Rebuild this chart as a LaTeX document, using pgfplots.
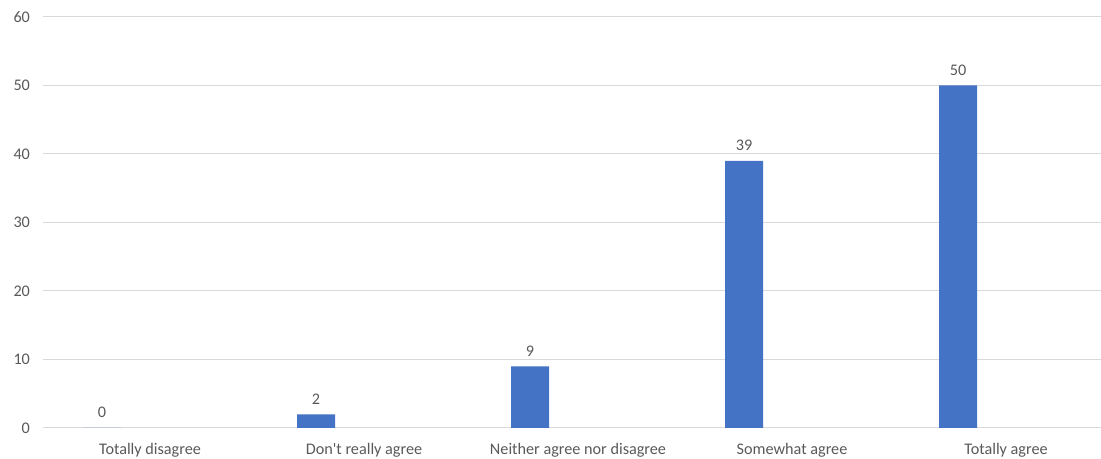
\documentclass[border=0pt]{standalone}
\usepackage{pgfplots}
\pgfplotsset{compat=1.18}
\usepackage{fontspec}
\setmainfont{Carlito}
\definecolor{barblue}{HTML}{4472C4}
\definecolor{labelgray}{HTML}{595959}
\definecolor{gridgray}{HTML}{D9D9D9}

\pgfplotstableread{
pos value
-0.224 0
0.776 2
1.776 9
2.776 39
3.776 50
}\responses

\begin{document}
\begin{tikzpicture}
\useasboundingbox (-21.5pt,-15.5pt) rectangle (529pt,214pt);
\begin{axis}[
  at={(0,0)}, anchor=south west,
  scale only axis,
  width=529pt, height=205.5pt,
  xmin=-0.5, xmax=4.444,
  ymin=0, ymax=60,
  ytick={0,10,...,60},
  xtick={0,1,2,3,4},
  xticklabels={Totally disagree, Don\textquotesingle t really agree, Neither agree nor disagree, Somewhat agree, Totally agree},
  axis line style={draw=none},
  major tick length=0pt,
  ymajorgrids,
  grid style={gridgray, line width=0.5pt},
  tick label style={font=\fontsize{8.1}{9.5}\selectfont, text=labelgray},
  /pgf/number format/assume math mode=true,
  yticklabel style={xshift=-3pt},
  xticklabel style={yshift=-4pt},
  clip=false,
]
\addplot[ybar, bar width=19pt, fill=barblue, draw=none,
  nodes near coords,
  every node near coord/.append style={font=\fontsize{8.1}{9.5}\selectfont, text=labelgray, yshift=1.5pt}]
  table[x=pos, y=value] {\responses};
\end{axis}
\end{tikzpicture}
\end{document}
